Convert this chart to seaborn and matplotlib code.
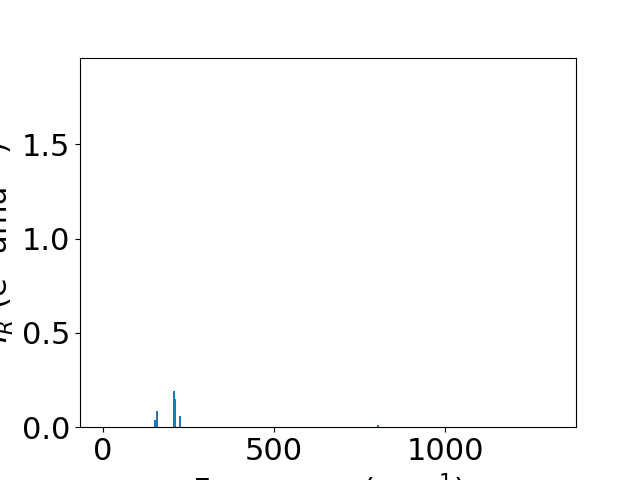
import matplotlib
matplotlib.use("Agg")
import matplotlib.pyplot as plt
import seaborn as sns
import pandas as pd

# Data
frequencies = [152, 158, 208, 213, 225, 804]          # cm^-1
intensities = [0.037, 0.085, 0.19, 0.15, 0.058, 0.012]  # e^2 amu^-1
x_limits = (-67, 1383)
y_limits = (0, 1.96)

plt.rcParams["font.size"] = 22
plt.rcParams["font.family"] = ["DejaVu Sans"]

fig, ax = plt.subplots(figsize=(6.4, 4.8), dpi=100)

df = pd.DataFrame({"freq": frequencies, "intensity": intensities})
sns.barplot(data=df, x="freq", y="intensity", native_scale=True,
            color="#1f77b4", saturation=1, width=0.8, errorbar=None,
            linewidth=0, ax=ax)

ax.set_xlim(*x_limits)
ax.set_ylim(*y_limits)
ax.set_xticks([0, 500, 1000])
ax.set_yticks([0.0, 0.5, 1.0, 1.5])
ax.set_xlabel("Frequency (cm$^{-1}$)")
ax.set_ylabel("$I_R$ (e$^2$ amu$^{-1}$)")

fig.savefig("out.png", dpi=100)
